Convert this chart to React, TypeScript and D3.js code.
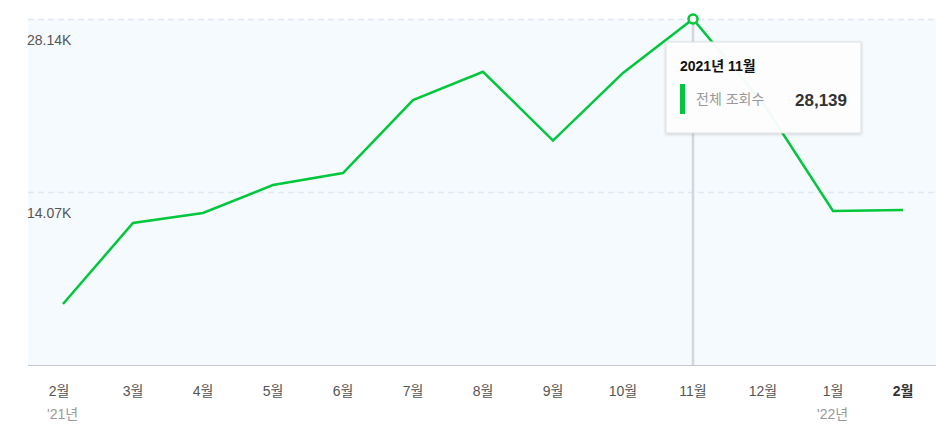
import React from "react";
import * as d3 from "d3";

const months = ["2월", "3월", "4월", "5월", "6월", "7월", "8월", "9월", "10월", "11월", "12월", "1월", "2월"];
const yearLabels = ["'21년", "", "", "", "", "", "", "", "", "", "", "'22년", ""];
const views = [4960, 11550, 12360, 14640, 15610, 21550, 23850, 18250, 23750, 28139, 21300, 12520, 12600];
const yTicks = [14070, 28140];
const yTickLabels = ["14.07K", "28.14K"];

const W = 951;
const H = 427;
const FONT = "'Liberation Sans', Arial, 'Noto Sans CJK KR', sans-serif";

export default function App() {
  const plotLeft = 28;
  const plotRight = 936;
  const plotTop = 19;
  const plotBottom = 365;
  const x = d3.scalePoint<number>().domain(d3.range(months.length)).range([63, 903]);
  const y = d3.scaleLinear().domain([0, 28139]).range([plotBottom, plotTop]);
  const line = d3
    .line<number>()
    .x((_, i) => x(i) as number)
    .y((d) => y(d));
  const hi = 9;
  const hx = x(hi) as number;
  const hy = y(views[hi]);

  return (
    <div style={{ position: "absolute", left: 0, top: 0 }}>
      <svg width={W} height={H} style={{ display: "block", fontFamily: FONT }}>
        <defs>
          <filter id="sh" x="-10%" y="-10%" width="120%" height="130%">
            <feDropShadow dx="0" dy="1" stdDeviation="1.5" floodColor="#000" floodOpacity="0.18" />
          </filter>
        </defs>
        <rect x={plotLeft} y={plotTop} width={plotRight - plotLeft} height={plotBottom - plotTop} fill="#f5faff" />
        {yTicks.map((t, i) => (
          <g key={i}>
            <line
              x1={plotLeft}
              x2={plotRight}
              y1={y(t) + 0.5}
              y2={y(t) + 0.5}
              stroke="#e1e7ee"
              strokeWidth={1.5}
              strokeDasharray="6 4"
            />
            <text x={plotLeft - 1} y={y(t) + 26} fontSize={14} fill="#555">
              {yTickLabels[i]}
            </text>
          </g>
        ))}
        <line x1={hx} x2={hx} y1={plotTop} y2={plotBottom} stroke="#d3d7dc" strokeWidth={2.5} />
        <line x1={plotLeft} x2={plotRight} y1={plotBottom + 0.5} y2={plotBottom + 0.5} stroke="#c4c8cd" strokeWidth={1.2} />
        <path d={line(views) || ""} fill="none" stroke="#00c73c" strokeWidth={2.5} strokeLinejoin="miter" />
        <circle cx={hx} cy={hy} r={4.5} fill="#fff" stroke="#00c73c" strokeWidth={2.5} />
        {months.map((m, i) => (
          <g key={i}>
            <text
              x={(x(i) as number) - (i === 0 ? 4 : 0)}
              y={396}
              textAnchor="middle"
              fontSize={14}
              fill={i === months.length - 1 ? "#333" : "#555"}
              fontWeight={i === months.length - 1 ? "bold" : "normal"}
            >
              {m}
            </text>
            {yearLabels[i] && (
              <text x={(x(i) as number) - 16} y={419} fontSize={14} fill="#999">
                {yearLabels[i]}
              </text>
            )}
          </g>
        ))}
        <g filter="url(#sh)">
          <rect x={666} y={42} width={195} height={91} fill="#fff" fillOpacity={0.94} stroke="#dcdfe3" strokeWidth={1} />
        </g>
        <text x={680} y={71} fontSize={14} fontWeight="bold" fill="#111">
          2021년 11월
        </text>
        <rect x={680} y={84} width={5} height={30} fill="#00c73c" />
        <text x={696} y={104} fontSize={14} fill="#999">
          전체 조회수
        </text>
        <text x={847} y={106} fontSize={17} fontWeight="bold" fill="#333" textAnchor="end">
          {d3.format(",")(views[hi])}
        </text>
      </svg>
    </div>
  );
}
